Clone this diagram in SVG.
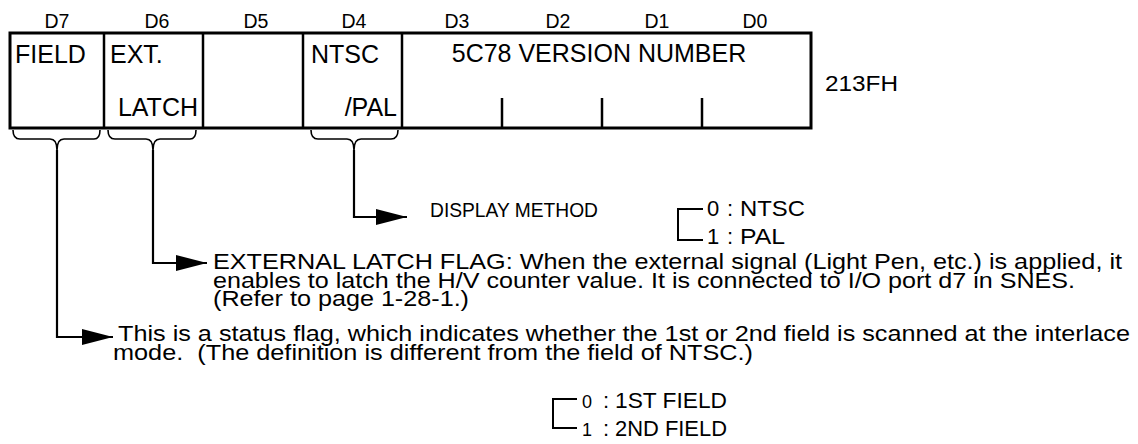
<svg xmlns="http://www.w3.org/2000/svg" width="1138" height="444" viewBox="0 0 1138 444">
<style>
text{font-family:"Liberation Sans",Arial,sans-serif;fill:#000}
.bit{font-size:19.5px;text-anchor:middle}
.cell{font-size:25px}
.body{font-size:22px}
.small{font-size:22px}
.frame{fill:#fff;stroke:#000;stroke-width:3}
.div{stroke:#000;stroke-width:2.5;fill:none}
.tick{stroke:#000;stroke-width:2.5}
.brace{fill:none;stroke:#000;stroke-width:1.6}
.conn{fill:none;stroke:#000;stroke-width:2.2}
.brk{fill:none;stroke:#000;stroke-width:2}
</style>
<defs>
<marker id="arr" markerUnits="userSpaceOnUse" viewBox="0 0 31 16" refX="31" refY="8" markerWidth="31" markerHeight="16" orient="auto">
<path d="M0,0 L31,8 L0,16 z" fill="#000"/>
</marker>
</defs>
<g id="bit-labels">
<text class="bit" x="57" y="28">D7</text>
<text class="bit" x="157" y="28">D6</text>
<text class="bit" x="256" y="28">D5</text>
<text class="bit" x="354" y="28">D4</text>
<text class="bit" x="457" y="28">D3</text>
<text class="bit" x="558" y="28">D2</text>
<text class="bit" x="657" y="28">D1</text>
<text class="bit" x="755" y="28">D0</text>
</g>
<g id="register">
<rect class="frame" x="10" y="33" width="801" height="95"/>
<line class="div" x1="104" y1="33" x2="104" y2="128"/>
<line class="div" x1="203" y1="33" x2="203" y2="128"/>
<line class="div" x1="303" y1="33" x2="303" y2="128"/>
<line class="div" x1="402" y1="33" x2="402" y2="128"/>
<line class="tick" x1="502" y1="98" x2="502" y2="128"/>
<line class="tick" x1="602" y1="98" x2="602" y2="128"/>
<line class="tick" x1="702" y1="98" x2="702" y2="128"/>
<text x="825" y="91" style="font-size:22px" textLength="73" lengthAdjust="spacingAndGlyphs">213FH</text>
</g>
<g id="d7-field"><text class="cell" x="15" y="63">FIELD</text></g>
<g id="d6-extlatch"><text class="cell" x="110" y="63">EXT.</text><text class="cell" x="198" y="116" text-anchor="end">LATCH</text></g>
<g id="d5"/>
<g id="d4-ntscpal"><text class="cell" x="311" y="63">NTSC</text><text class="cell" x="397" y="116" text-anchor="end">/PAL</text></g>
<g id="d3-d0-version"><text class="cell" x="599" y="62" text-anchor="middle">5C78 VERSION NUMBER</text></g>
<g id="connectors">
<path class="brace" d="M13,130 Q13,139 20,139 H50 Q57,139 57,150 Q57,139 64,139 H94 Q100,139 100,130"/>
<path class="brace" d="M108,130 Q108,139 115,139 H146 Q153,139 153,150 Q153,139 160,139 H190 Q196,139 196,130"/>
<path class="brace" d="M311,130 Q311,139 318,139 H347 Q354,139 354,150 Q354,139 361,139 H391 Q398,139 398,130"/>
<path class="conn" d="M354,150 V217 H407" marker-end="url(#arr)"/>
<path class="conn" d="M153,150 V263 H207" marker-end="url(#arr)"/>
<path class="conn" d="M57,150 V337 H113" marker-end="url(#arr)"/>
</g>
<g id="display-method">
<text class="body" x="430" y="217" style="font-size:21px" textLength="168" lengthAdjust="spacingAndGlyphs">DISPLAY METHOD</text>
<path class="brk" d="M703,209 H678 V240 H703"/>
<text class="small" x="707" y="216">0</text><text class="small" x="727" y="216">:</text><text class="small" x="740" y="216" textLength="65" lengthAdjust="spacingAndGlyphs">NTSC</text>
<text class="small" x="707" y="244">1</text><text class="small" x="727" y="244">:</text><text class="small" x="740" y="244" textLength="45" lengthAdjust="spacingAndGlyphs">PAL</text>
</g>
<g id="external-latch">
<text class="body" x="213" y="269" textLength="909" lengthAdjust="spacingAndGlyphs">EXTERNAL LATCH FLAG: When the external signal (Light Pen, etc.) is applied, it</text>
<text class="body" x="213" y="288" textLength="862" lengthAdjust="spacingAndGlyphs">enables to latch the H/V counter value. It is connected to I/O port d7 in SNES.</text>
<text class="body" x="213" y="306" textLength="256" lengthAdjust="spacingAndGlyphs">(Refer to page 1-28-1.)</text>
</g>
<g id="field-flag">
<text class="body" x="118" y="341" textLength="1012" lengthAdjust="spacingAndGlyphs">This is a status flag, which indicates whether the 1st or 2nd field is scanned at the interlace</text>
<text class="body" x="113" y="360" textLength="640" lengthAdjust="spacingAndGlyphs">mode.&#160; (The definition is different from the field of NTSC.)</text>
<path class="brk" d="M577,399 H553 V428 H577"/>
<text x="582" y="408" style="font-size:18px">0</text><text class="small" x="603" y="408">:</text><text class="small" x="615" y="408" textLength="112" lengthAdjust="spacingAndGlyphs">1ST FIELD</text>
<text x="582" y="436" style="font-size:18px">1</text><text class="small" x="603" y="436">:</text><text class="small" x="615" y="436" textLength="112" lengthAdjust="spacingAndGlyphs">2ND FIELD</text>
</g>
</svg>
